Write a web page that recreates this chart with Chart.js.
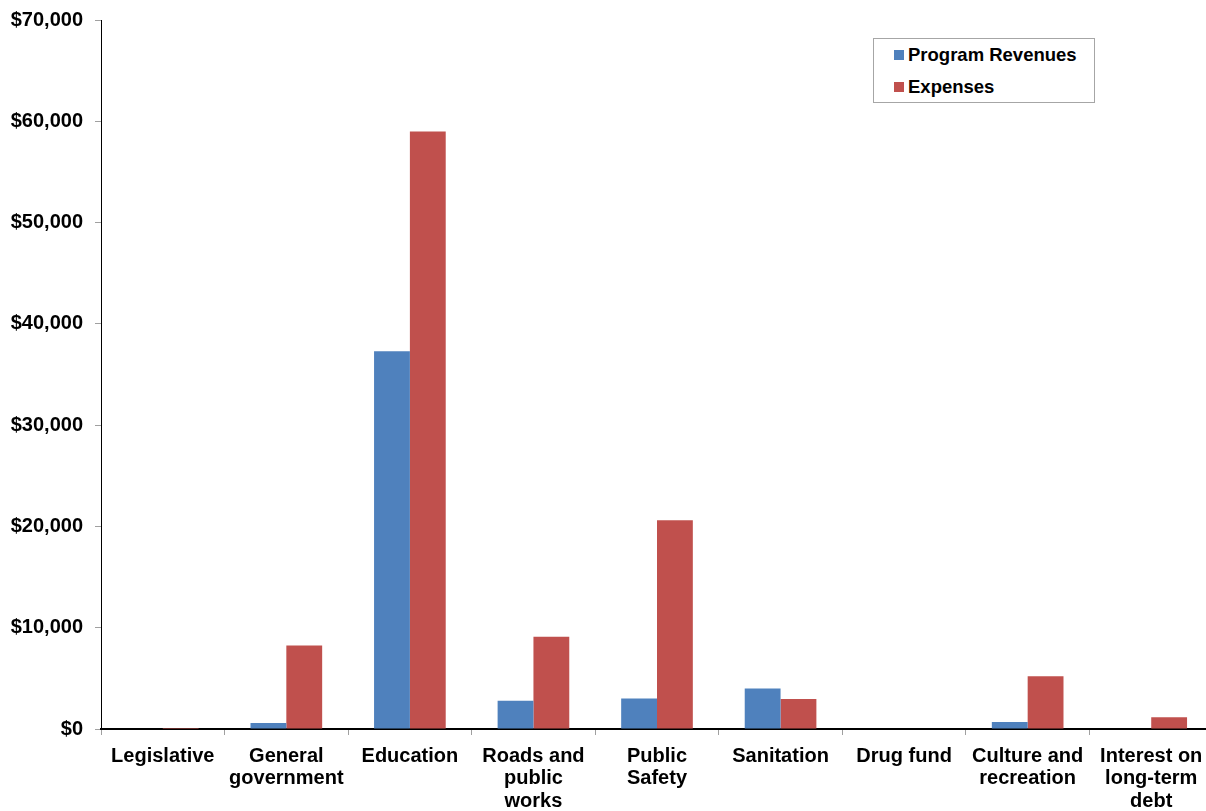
<!DOCTYPE html>
<html>
<head>
<meta charset="utf-8">
<script src="https://cdn.jsdelivr.net/npm/chart.js@4"></script>
<style>
  body { margin: 0; background: #fff; overflow: hidden; }
  #wrap { position: relative; width: 1206px; height: 811px; overflow: hidden; }
  #legend {
    position: absolute; left: 873px; top: 38px; width: 220px; height: 63px;
    border: 1px solid #a6a6a6; background: #fff;
    font: bold 18.5px "Liberation Sans", Arial, sans-serif; color: #000;
  }
  #legend div { position: absolute; left: 20px; height: 22px; line-height: 22px; white-space: nowrap; }
  #legend span { display: inline-block; width: 10px; height: 10px; margin-right: 4px; vertical-align: 1px; }
</style>
</head>
<body>
<div id="wrap">
  <canvas id="bar-chart" width="1213" height="811"></canvas>
  <div id="legend">
    <div style="top:5px"><span style="background:#4F81BD"></span>Program Revenues</div>
    <div style="top:37px"><span style="background:#C0504D"></span>Expenses</div>
  </div>
</div>
<script>
const categories = [
  'Legislative',
  ['General', 'government'],
  'Education',
  ['Roads and', 'public', 'works'],
  ['Public', 'Safety'],
  'Sanitation',
  'Drug fund',
  ['Culture and', 'recreation'],
  ['Interest on', 'long-term', 'debt']
];
const programRevenues = [0, 600, 37300, 2800, 3000, 4000, 0, 700, 0];
const expenses = [100, 8250, 59000, 9100, 20600, 2950, 0, 5200, 1150];
const yTicks = [0, 10000, 20000, 30000, 40000, 50000, 60000, 70000];

const font = { family: '"Liberation Sans", Arial, sans-serif', size: 20, weight: 'bold', lineHeight: 1.13 };

const ctx = document.getElementById('bar-chart').getContext('2d');

new Chart(ctx, {
  type: 'bar',
  data: {
    labels: categories,
    datasets: [{
      label: 'Program Revenues',
      data: programRevenues,
      backgroundColor: '#4F81BD',
      borderWidth: 0,
    }, {
      label: 'Expenses',
      data: expenses,
      backgroundColor: '#C0504D',
      borderWidth: 0,
    }]
  },
  options: {
    responsive: false,
    animation: false,
    layout: { padding: { top: 20, right: 0, left: 0, bottom: 0 } },
    plugins: {
      legend: { display: false },
      tooltip: { enabled: false }
    },
    datasets: {
      bar: { categoryPercentage: 0.58, barPercentage: 1 }
    },
    scales: {
      x: {
        grid: { offset: true, drawOnChartArea: false, tickLength: 6, color: '#a0a0a0' },
        border: { color: '#000', width: 2 },
        ticks: { color: '#000', font: font, padding: 10, maxRotation: 0, autoSkip: false },
        afterFit: scale => { scale.height = 82; }
      },
      y: {
        min: 0,
        max: 70000,
        afterBuildTicks: scale => { scale.ticks = yTicks.map(v => ({ value: v })); },
        grid: { drawOnChartArea: false, tickLength: 6, color: '#a0a0a0' },
        border: { color: '#000', width: 1 },
        ticks: {
          color: '#000',
          font: font,
          padding: 12,
          callback: v => '$' + v.toLocaleString('en-US')
        },
        afterFit: scale => {
          scale.width = 101;
          scale.paddingTop = 0;
          scale.paddingBottom = 0;
        }
      }
    }
  }
});
</script>
</body>
</html>
